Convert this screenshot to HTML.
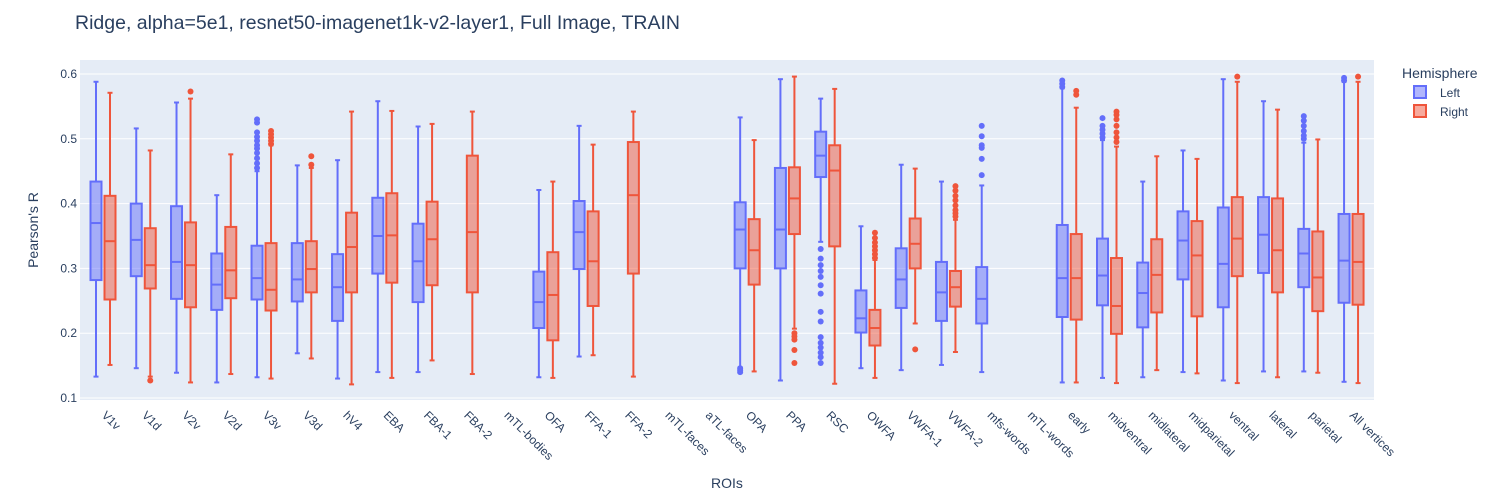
<!DOCTYPE html>
<html><head><meta charset="utf-8"><style>
body{margin:0;background:#fff;}
svg{display:block;font-family:"Liberation Sans",Arial,sans-serif;}
</style></head><body>
<svg id="chart" width="1500" height="500">
<rect x="0" y="0" width="1500" height="500" fill="#fff"/>
<rect x="80" y="60" width="1294" height="340" fill="#e5ecf6"/>
<g id="grid"></g>
<g id="boxes"></g>
<g id="yticks"></g>
<g id="xticks"></g>
<text x="75" y="29" font-size="19.5" fill="#2a3f5f">Ridge, alpha=5e1, resnet50-imagenet1k-v2-layer1, Full Image, TRAIN</text>
<text x="0" y="0" transform="translate(38,230) rotate(-90)" text-anchor="middle" font-size="14" fill="#2a3f5f">Pearson's R</text>
<text x="727" y="488" text-anchor="middle" font-size="14" fill="#2a3f5f">ROIs</text>
<g>
<text x="1402" y="78" font-size="14" fill="#2a3f5f">Hemisphere</text>
<g><rect x="1414" y="86" width="12" height="12" fill="rgba(99,110,250,0.5)" stroke="#636efa" stroke-width="2"/><text x="1440" y="97" font-size="12" fill="#2a3f5f">Left</text></g>
<g><rect x="1414" y="105" width="12" height="12" fill="rgba(239,85,59,0.5)" stroke="#EF553B" stroke-width="2"/><text x="1440" y="116" font-size="12" fill="#2a3f5f">Right</text></g>
</g>
</svg>
<script>
const categories=["V1v","V1d","V2v","V2d","V3v","V3d","hV4","EBA","FBA-1","FBA-2","mTL-bodies","OFA","FFA-1","FFA-2","mTL-faces","aTL-faces","OPA","PPA","RSC","OWFA","VWFA-1","VWFA-2","mfs-words","mTL-words","early","midventral","midlateral","midparietal","ventral","lateral","parietal","All vertices"];
// [min, q1, median, q3, max] or null
const leftStats=[
[0.133,0.282,0.370,0.434,0.588],[0.146,0.288,0.344,0.400,0.516],[0.139,0.253,0.310,0.396,0.556],[0.124,0.236,0.275,0.323,0.413],
[0.132,0.252,0.285,0.335,0.450],[0.169,0.249,0.283,0.339,0.459],[0.130,0.219,0.271,0.322,0.467],[0.140,0.292,0.350,0.409,0.558],
[0.140,0.248,0.311,0.369,0.519],null,null,[0.132,0.208,0.248,0.295,0.421],[0.164,0.299,0.356,0.404,0.520],null,null,null,
[0.146,0.300,0.360,0.402,0.533],[0.127,0.300,0.360,0.455,0.592],[0.341,0.441,0.474,0.511,0.562],[0.146,0.201,0.223,0.266,0.365],
[0.143,0.239,0.283,0.331,0.460],[0.151,0.219,0.263,0.310,0.434],[0.140,0.215,0.253,0.302,0.428],null,
[0.124,0.225,0.285,0.367,0.578],[0.131,0.243,0.289,0.346,0.498],[0.132,0.209,0.262,0.309,0.434],[0.140,0.283,0.343,0.388,0.482],
[0.127,0.240,0.307,0.394,0.592],[0.141,0.293,0.352,0.410,0.558],[0.141,0.271,0.323,0.361,0.494],[0.125,0.247,0.312,0.384,0.588]];
const rightStats=[
[0.151,0.252,0.342,0.412,0.571],[0.133,0.269,0.305,0.362,0.482],[0.124,0.240,0.305,0.371,0.562],[0.137,0.254,0.297,0.364,0.476],
[0.130,0.235,0.267,0.339,0.490],[0.161,0.263,0.299,0.342,0.455],[0.121,0.263,0.333,0.386,0.542],[0.131,0.278,0.351,0.416,0.543],
[0.158,0.274,0.345,0.403,0.523],[0.137,0.263,0.356,0.474,0.542],null,[0.131,0.189,0.259,0.325,0.434],[0.166,0.242,0.311,0.388,0.491],[0.133,0.292,0.413,0.495,0.542],null,null,
[0.141,0.275,0.328,0.376,0.498],[0.207,0.353,0.408,0.456,0.596],[0.122,0.334,0.451,0.490,0.577],[0.131,0.181,0.208,0.236,0.313],
[0.215,0.300,0.338,0.377,0.454],[0.171,0.241,0.271,0.296,0.375],null,null,
[0.124,0.221,0.285,0.353,0.548],[0.123,0.199,0.242,0.316,0.488],[0.143,0.232,0.290,0.345,0.473],[0.138,0.226,0.320,0.373,0.469],
[0.123,0.288,0.346,0.410,0.588],[0.132,0.263,0.328,0.408,0.545],[0.139,0.234,0.286,0.357,0.499],[0.123,0.244,0.310,0.384,0.588]];
const leftOutliers=[[],[],[],[],[0.455,0.462,0.47,0.478,0.485,0.49,0.497,0.503,0.51,0.525,0.53],[],[],[],[],[],[],[],[],[],[],[],
[0.140,0.143,0.146],[],[0.33,0.315,0.305,0.296,0.287,0.274,0.261,0.233,0.218,0.194,0.185,0.178,0.170,0.163,0.154],[],
[],[],[0.444,0.469,0.486,0.490,0.504,0.520],[],[0.58,0.585,0.59],[0.502,0.508,0.514,0.52,0.532],[],[],[],[],[0.50,0.505,0.512,0.52,0.528,0.535],[0.59,0.594]];
const rightOutliers=[[],[0.127],[0.573],[],[0.492,0.497,0.502,0.507,0.512],[0.46,0.473],[],[],[],[],[],[],[],[],[],[],
[],[0.200,0.195,0.190,0.174,0.154],[],[0.316,0.322,0.328,0.334,0.34,0.347,0.355],
[0.175],[0.38,0.385,0.39,0.397,0.405,0.412,0.42,0.427],[],[],[0.568,0.574],[0.495,0.502,0.51,0.52,0.53,0.537,0.542],[],[],[0.596],[],[],[0.596]];
const yTicks=[0.1,0.2,0.3,0.4,0.5,0.6];

const NS="http://www.w3.org/2000/svg";
function xPos(i){return 103+i*40.26;}
function yPos(v){return 74+(0.6-v)*648;}
function mk(tag,attrs,parent){const e=document.createElementNS(NS,tag);for(const k in attrs)e.setAttribute(k,attrs[k]);parent.appendChild(e);return e;}
const grid=document.getElementById('grid'),yt=document.getElementById('yticks'),xt=document.getElementById('xticks'),bx=document.getElementById('boxes');
yTicks.forEach(v=>{
 const l=mk('line',{x1:80,x2:1374,y1:yPos(v),y2:yPos(v),stroke:'#fff','stroke-width':1},grid);
 
 
 const t=mk('text',{x:77,y:yPos(v)+4,'text-anchor':'end','font-size':12,fill:'#2a3f5f'},yt);
 t.textContent=v.toFixed(1);
 
 
});
categories.forEach((c,i)=>{
 const x=xPos(i)-2,y=416;
 const t=mk('text',{x:x,y:y,transform:`rotate(45 ${x} ${y})`,'font-size':12,fill:'#2a3f5f'},xt);
 t.textContent=c;
 
 
});
function drawBox(s,outs,cx,color,fill,name){
 if(!s)return;
 const g=mk('g',{},bx);
 
 
 const hw=5.5,cw=2.5;
 mk('line',{x1:cx,x2:cx,y1:yPos(s[0]),y2:yPos(s[1]),stroke:color,'stroke-width':2},g);
 mk('line',{x1:cx,x2:cx,y1:yPos(s[3]),y2:yPos(s[4]),stroke:color,'stroke-width':2},g);
 mk('line',{x1:cx-cw,x2:cx+cw,y1:yPos(s[0]),y2:yPos(s[0]),stroke:color,'stroke-width':2},g);
 mk('line',{x1:cx-cw,x2:cx+cw,y1:yPos(s[4]),y2:yPos(s[4]),stroke:color,'stroke-width':2},g);
 mk('rect',{x:cx-hw,y:yPos(s[3]),width:2*hw,height:yPos(s[1])-yPos(s[3]),fill:fill,stroke:color,'stroke-width':2},g);
 mk('line',{x1:cx-hw,x2:cx+hw,y1:yPos(s[2]),y2:yPos(s[2]),stroke:color,'stroke-width':2},g);
 outs.forEach(v=>{
  const p=mk('circle',{cx:cx,cy:yPos(v),r:3,fill:color},g);
  
  
 });
}
categories.forEach((c,i)=>{
 drawBox(leftStats[i],leftOutliers[i],xPos(i)-7,'#636efa','rgba(99,110,250,0.5)','box-left-'+c);
 drawBox(rightStats[i],rightOutliers[i],xPos(i)+7,'#EF553B','rgba(239,85,59,0.5)','box-right-'+c);
});
</script>
</body></html>
